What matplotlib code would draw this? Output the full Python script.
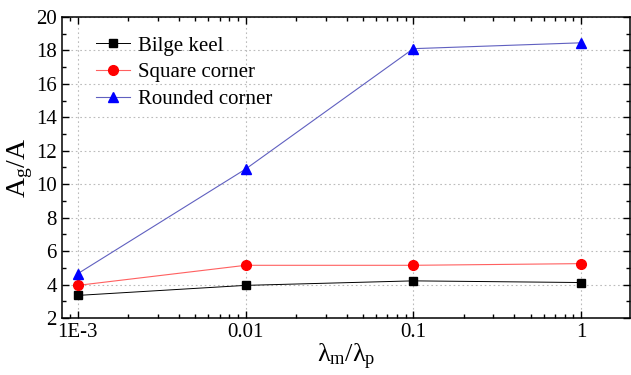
import matplotlib
matplotlib.use("Agg")
import matplotlib.pyplot as plt
from matplotlib.ticker import FixedLocator, LogLocator, MultipleLocator, NullFormatter

plt.rcParams['font.family'] = ['Liberation Serif', 'DejaVu Serif']
plt.rcParams['mathtext.fontset'] = 'custom'
plt.rcParams['mathtext.rm'] = 'Liberation Serif'
plt.rcParams['mathtext.it'] = 'Liberation Serif'

# ── data ───────────────────────────────────────────────
ratio = [1e-3, 1e-2, 1e-1, 1.0]
xtick_labels = ["1E-3", "0.01", "0.1", "1"]
bilge_keel = [3.35, 3.95, 4.22, 4.12]
square_corner = [3.95, 5.15, 5.15, 5.25]
rounded_corner = [4.65, 10.9, 18.1, 18.45]

fig = plt.figure(figsize=(6.31, 3.75), dpi=100)
ax = fig.add_axes([0.098, 0.152, 0.9, 0.803])

ax.plot(ratio, bilge_keel, color='black', lw=0.7, marker='s', ms=5.5,
        label='Bilge keel')
ax.plot(ratio, square_corner, color='#ff6060', lw=0.8, marker='o', ms=7,
        mfc='red', mec='red', label='Square corner')
ax.plot(ratio, rounded_corner, color='#6060c0', lw=0.8, marker='^', ms=7.5,
        mfc='blue', mec='blue', label='Rounded corner')

ax.set_xscale('log')
ax.set_xlim(10 ** -3.095, 10 ** 0.29)
ax.set_ylim(2, 20)
ax.xaxis.set_major_locator(FixedLocator(ratio))
ax.set_xticklabels(xtick_labels)
ax.xaxis.set_minor_locator(LogLocator(base=10, subs=range(2, 10)))
ax.xaxis.set_minor_formatter(NullFormatter())
ax.yaxis.set_major_locator(MultipleLocator(2))
ax.yaxis.set_minor_locator(MultipleLocator(1))

ax.tick_params(which='both', direction='in', top=True, right=True,
               labelsize=15, width=1)
ax.tick_params(which='major', length=5)
ax.tick_params(which='minor', length=3)
ax.grid(which='major', linestyle=(0, (1.5, 2.5)), color='#bbbbbb', linewidth=0.8)
for s in ax.spines.values():
    s.set_linewidth(1.1)

ax.set_xlabel(r'$\lambda_\mathrm{m}/\lambda_\mathrm{p}$', fontsize=19, labelpad=0)
ax.set_ylabel(r'$\mathrm{A_g/A}$', fontsize=20, labelpad=1)

ax.legend(loc='upper left', bbox_to_anchor=(0.035, 0.985), frameon=False,
          fontsize=15, handlelength=1.6, handletextpad=0.4, labelspacing=0.35,
          borderaxespad=0.3)

fig.savefig('out.png', dpi=100)
